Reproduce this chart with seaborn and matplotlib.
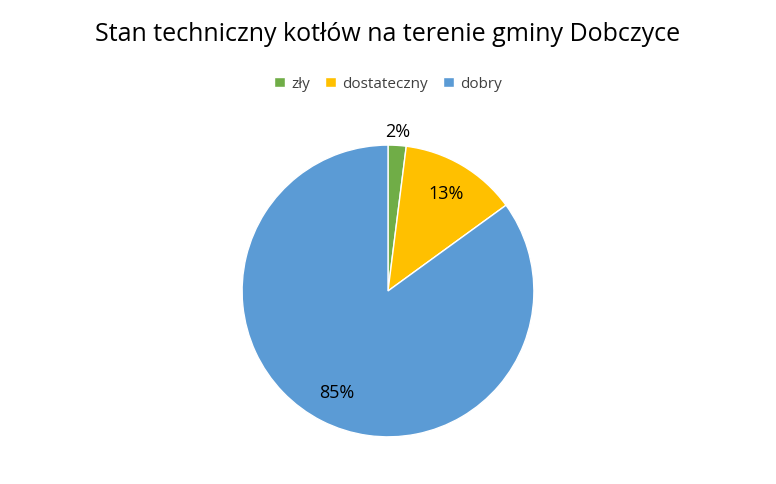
import numpy as np
import matplotlib
matplotlib.use("Agg")
import matplotlib.pyplot as plt
import seaborn as sns

categories = ["zły", "dostateczny", "dobry"]
values = [2, 13, 85]
colors = ["#70AD47", "#FFC000", "#5B9BD5"]

sns.set_theme(style="white")
plt.rcParams['font.family'] = ['Open Sans', 'DejaVu Sans']

fig = plt.figure(figsize=(7.76, 4.85), dpi=100)
ax = fig.add_axes([0.312, 0.097, 0.376, 0.602])

wedges, texts, autotexts = ax.pie(values, colors=colors, startangle=90, counterclock=False,
                                  autopct="%1.0f%%", pctdistance=0.78,
                                  wedgeprops=dict(edgecolor="white", linewidth=1),
                                  textprops=dict(fontsize=13, color="black"))
# small slice label sits outside the pie
w = wedges[0]
mid = np.deg2rad((w.theta1 + w.theta2) / 2)
autotexts[0].set_position((1.1 * np.cos(mid), 1.1 * np.sin(mid)))
ax.set_xlim(-1, 1)
ax.set_ylim(-1, 1)
ax.set_aspect("equal")

fig.suptitle("Stan techniczny kotłów na terenie gminy Dobczyce", fontsize=18, y=0.955,
             color="black")
fig.legend(wedges, categories, loc="center", bbox_to_anchor=(0.5, 0.825), ncol=3,
           frameon=False, fontsize=11, handlelength=0.7, handleheight=0.7,
           columnspacing=1.0, handletextpad=0.4, labelcolor="#404040")

fig.savefig("out.png", dpi=100)
